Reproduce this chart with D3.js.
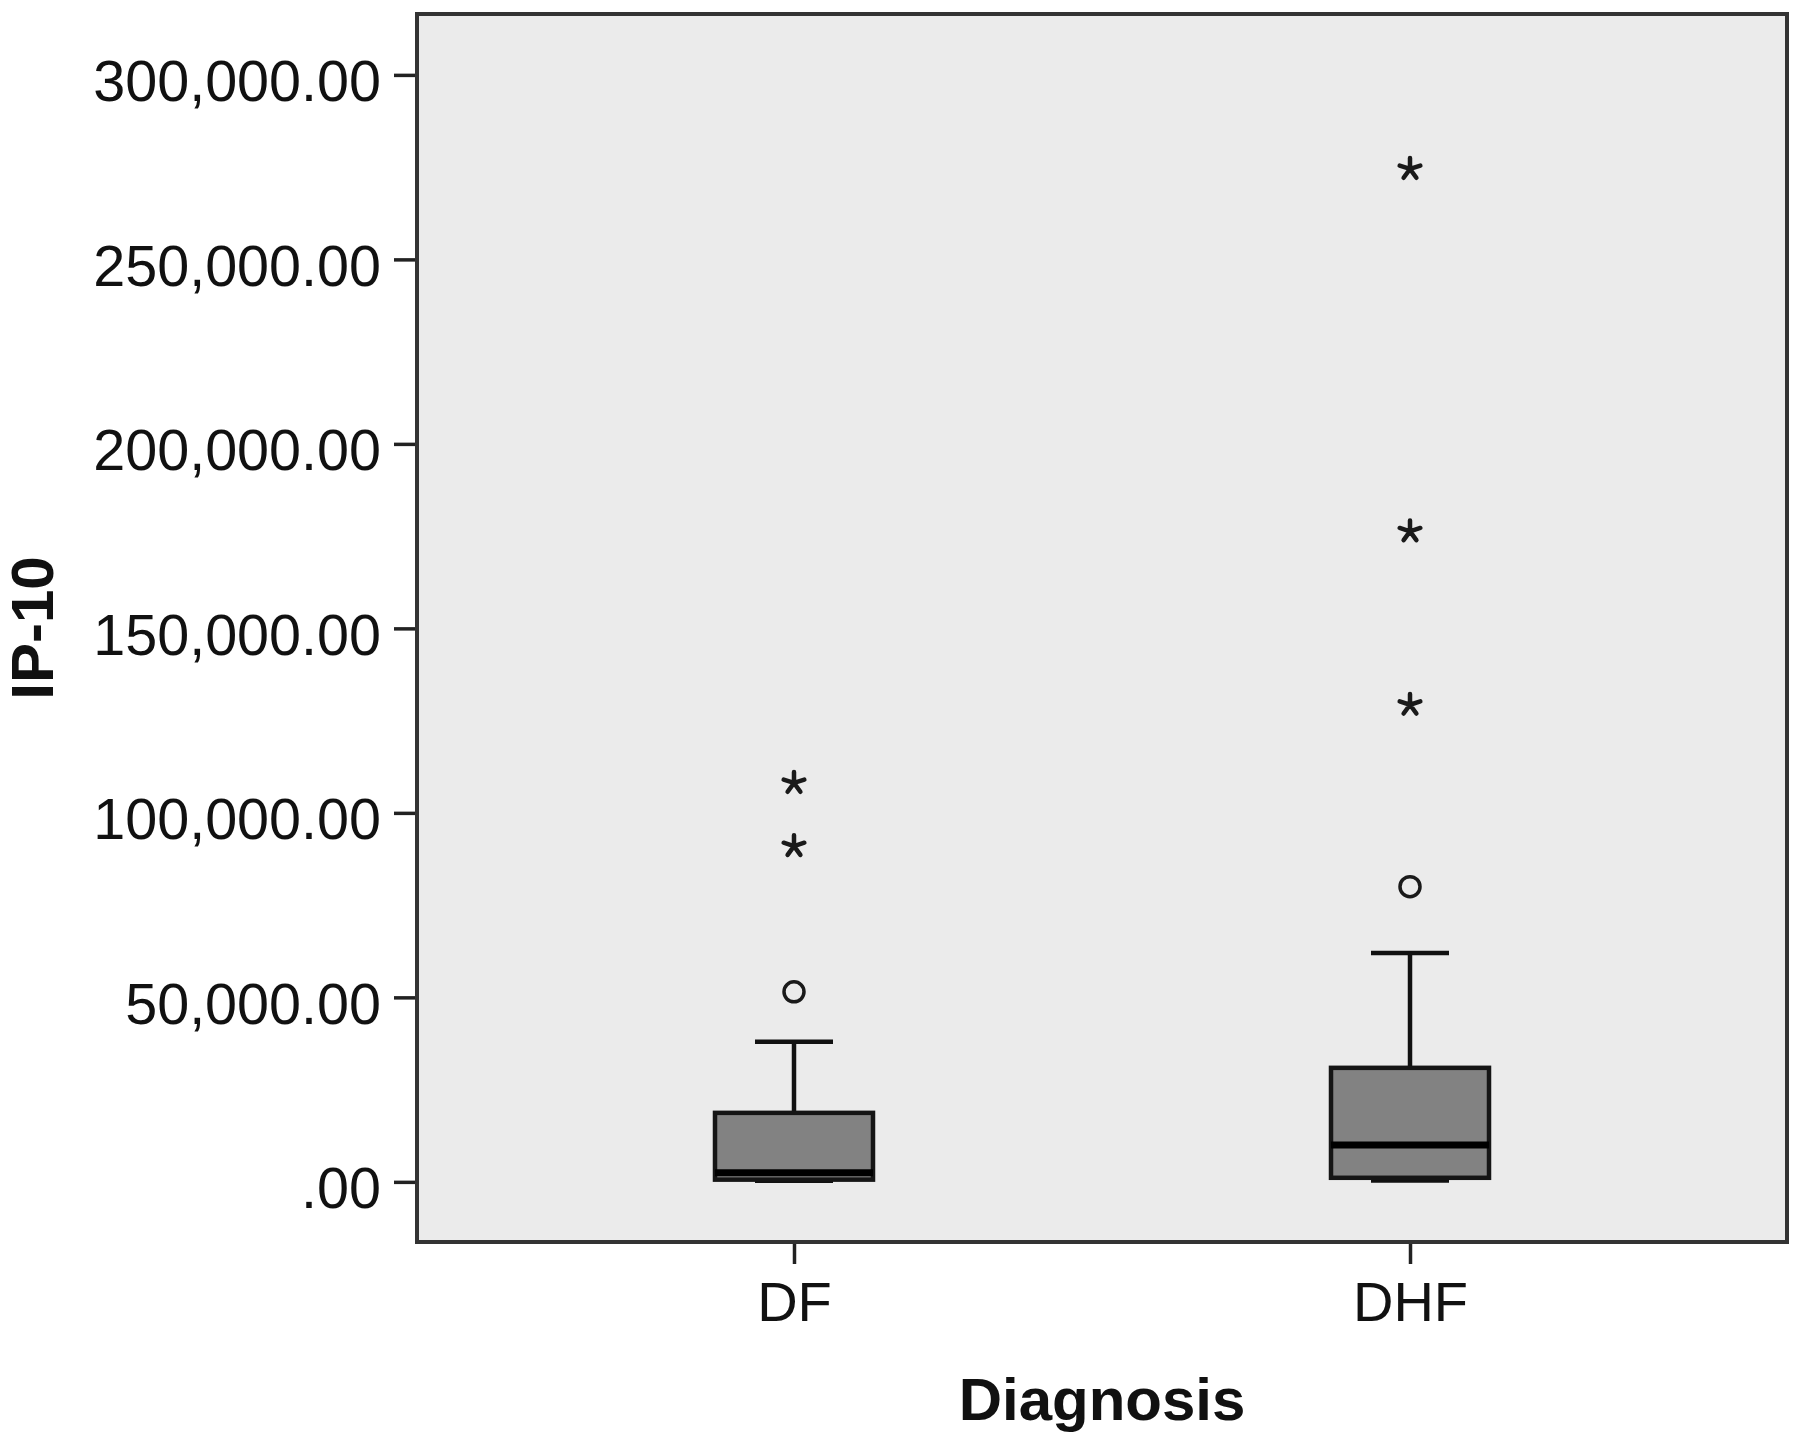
<!DOCTYPE html>
<html>
<head>
<meta charset="utf-8">
<script src="https://cdn.jsdelivr.net/npm/d3@7"></script>
<style>
  body { margin: 0; background: #fff; }
  svg { display: block; font-family: "Liberation Sans", Arial, sans-serif; }
</style>
</head>
<body>
<svg id="boxplot" width="1800" height="1439"></svg>
<script>
// Data
const categories = ["DF", "DHF"];
const whiskerLow = [300, 400];
const q1 = [600, 1100];
const medians = [2500, 10000];
const q3 = [18700, 30900];
const whiskerHigh = [38000, 62000];
const circleOutliers = [[51500], [80000]];
const starOutliers = [[91000, 108100], [129300, 176300, 274500]];
const yTicks = [0, 50000, 100000, 150000, 200000, 250000, 300000];
const yExtent = [-16300, 316500];

const svg = d3.select("#boxplot"),
    margin = { top: 14, right: 13, bottom: 197, left: 417 },
    width = +svg.attr("width") - margin.left - margin.right,
    height = +svg.attr("height") - margin.top - margin.bottom;

const chart = svg.append("g")
    .attr("transform", `translate(${margin.left},${margin.top})`);

// Scales
const x = d3.scalePoint()
    .domain(categories)
    .range([0, width])
    .padding(0.612);

const y = d3.scaleLinear()
    .domain(yExtent)
    .range([height, 0]);

const boxWidth = 158;
const capWidth = 78;

// 5-arm asterisk used by SPSS for extreme values
const asterisk = {
    draw(ctx, size) {
        const r = Math.sqrt(size) / 1.2;
        for (let k = 0; k < 5; k++) {
            const a = -Math.PI / 2 + k * 2 * Math.PI / 5;
            ctx.moveTo(0, 0);
            ctx.lineTo(r * Math.cos(a), r * Math.sin(a));
        }
    }
};

// Plot background
chart.append("rect")
    .attr("x", 0)
    .attr("y", 0)
    .attr("width", width)
    .attr("height", height)
    .attr("fill", "#ebebeb");

// Axes
const fmt = d => d3.format(",.2f")(d).replace(/^0\./, ".");

const yAxis = chart.append("g")
    .call(d3.axisLeft(y).tickValues(yTicks).tickSize(23).tickPadding(13).tickFormat(fmt));
yAxis.select(".domain").remove();
yAxis.selectAll(".tick line").attr("stroke", "#222").attr("stroke-width", 3.5);
yAxis.selectAll(".tick text")
    .attr("dy", "0.45em")
    .style("font-size", "57.5px")
    .style("fill", "#111");

const xAxis = chart.append("g")
    .attr("transform", `translate(0,${height})`)
    .call(d3.axisBottom(x).tickSize(22).tickPadding(17));
xAxis.select(".domain").remove();
xAxis.selectAll(".tick line").attr("stroke", "#222").attr("stroke-width", 3.5);
xAxis.selectAll(".tick text")
    .style("font-size", "56px")
    .style("fill", "#111");

// Build rows for the boxes
const rows = categories.map((c, i) => ({
    cat: c,
    low: whiskerLow[i],
    q1: q1[i],
    median: medians[i],
    q3: q3[i],
    high: whiskerHigh[i],
    circles: circleOutliers[i],
    stars: starOutliers[i]
}));

const groups = chart.selectAll(".box")
    .data(rows)
    .join("g")
    .attr("class", "box")
    .attr("transform", d => `translate(${x(d.cat)},0)`);

// whisker stems
groups.append("line")
    .attr("x1", 0).attr("x2", 0)
    .attr("y1", d => y(d.q3)).attr("y2", d => y(d.high))
    .attr("stroke", "#111").attr("stroke-width", 4.5);
groups.append("line")
    .attr("x1", 0).attr("x2", 0)
    .attr("y1", d => y(d.q1)).attr("y2", d => y(d.low))
    .attr("stroke", "#111").attr("stroke-width", 4.5);

// whisker caps
groups.append("line")
    .attr("x1", -capWidth / 2).attr("x2", capWidth / 2)
    .attr("y1", d => y(d.high)).attr("y2", d => y(d.high))
    .attr("stroke", "#111").attr("stroke-width", 4.5);
groups.append("line")
    .attr("x1", -capWidth / 2).attr("x2", capWidth / 2)
    .attr("y1", d => y(d.low)).attr("y2", d => y(d.low))
    .attr("stroke", "#111").attr("stroke-width", 4.5);

// boxes
groups.append("rect")
    .attr("x", -boxWidth / 2)
    .attr("width", boxWidth)
    .attr("y", d => y(d.q3))
    .attr("height", d => y(d.q1) - y(d.q3))
    .attr("fill", "#828282")
    .attr("stroke", "#151515")
    .attr("stroke-width", 4.5);

// medians
groups.append("line")
    .attr("x1", -boxWidth / 2).attr("x2", boxWidth / 2)
    .attr("y1", d => y(d.median)).attr("y2", d => y(d.median))
    .attr("stroke", "#000").attr("stroke-width", 7);

// mild outliers
groups.selectAll(".circle-out")
    .data(d => d.circles)
    .join("circle")
    .attr("class", "circle-out")
    .attr("cx", 0)
    .attr("cy", d => y(d))
    .attr("r", 10)
    .attr("fill", "none")
    .attr("stroke", "#1a1a1a")
    .attr("stroke-width", 3.5);

// extreme outliers
groups.selectAll(".star-out")
    .data(d => d.stars)
    .join("path")
    .attr("class", "star-out")
    .attr("transform", d => `translate(0,${y(d)})`)
    .attr("d", d3.symbol().type(asterisk).size(170))
    .attr("fill", "none")
    .attr("stroke", "#1a1a1a")
    .attr("stroke-width", 4.5)
    .attr("stroke-linecap", "round");

// frame on top
chart.append("rect")
    .attr("x", 0)
    .attr("y", 0)
    .attr("width", width)
    .attr("height", height)
    .attr("fill", "none")
    .attr("stroke", "#333")
    .attr("stroke-width", 4);

// Axis titles
svg.append("text")
    .attr("x", margin.left + width / 2)
    .attr("y", 1420)
    .attr("text-anchor", "middle")
    .style("font-size", "60px")
    .style("font-weight", "bold")
    .style("fill", "#111")
    .text("Diagnosis");

svg.append("text")
    .attr("transform", `translate(53,${margin.top + height / 2}) rotate(-90)`)
    .attr("text-anchor", "middle")
    .style("font-size", "60px")
    .style("font-weight", "bold")
    .style("fill", "#111")
    .text("IP-10");
</script>
</body>
</html>
